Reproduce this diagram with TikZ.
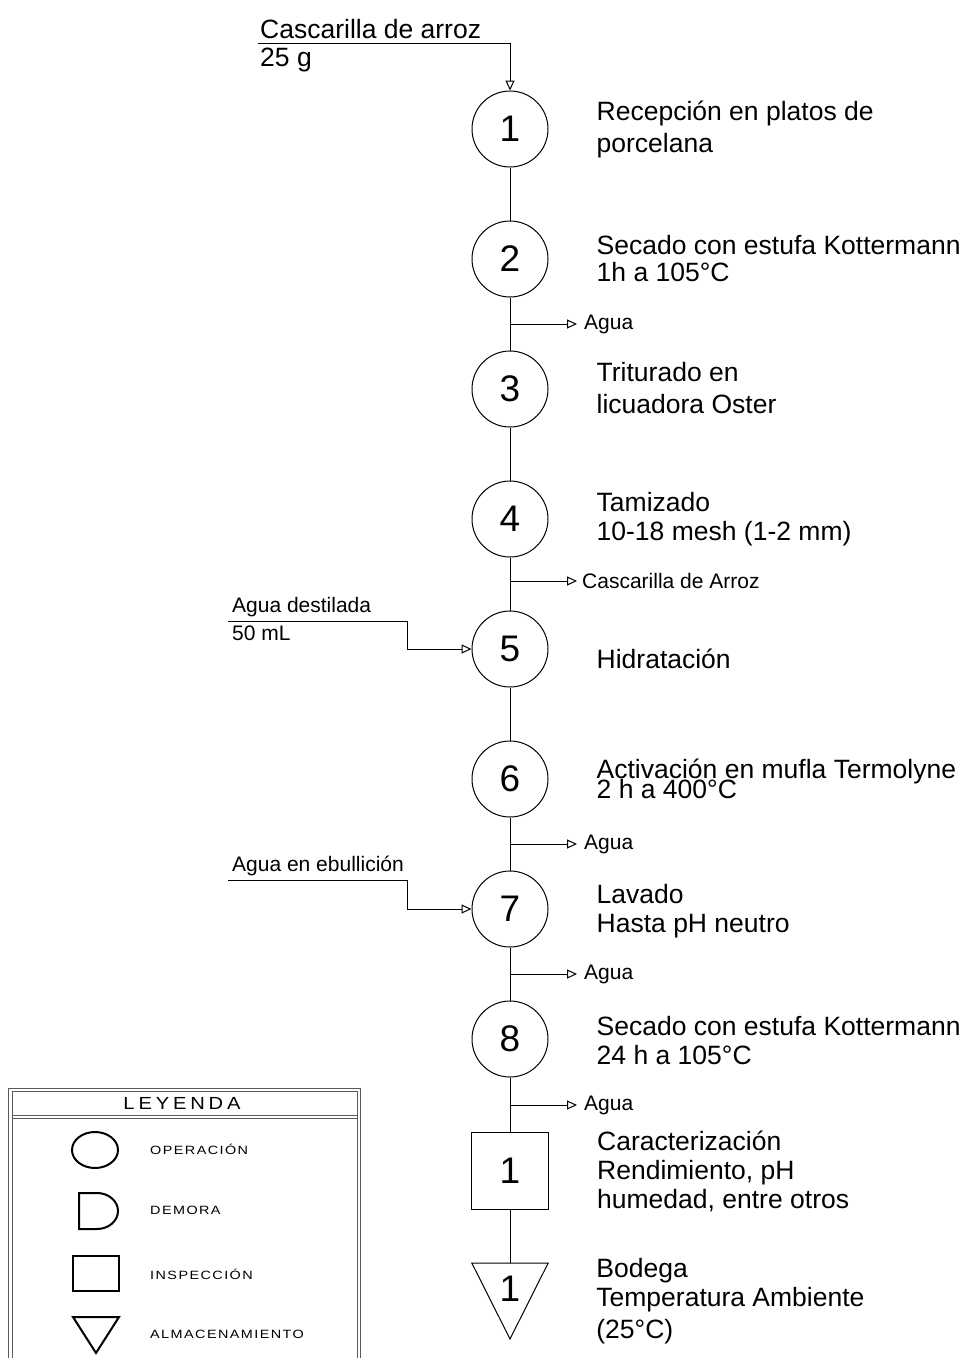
\documentclass[tikz,border=0pt]{standalone}
\usepackage{fontspec}
\setmainfont{Liberation Sans}
\newfontfamily\legfont[FakeStretch=1.2, LetterSpace=12]{Liberation Sans}
\newfontfamily\headfont[FakeStretch=1.15, LetterSpace=22]{Liberation Sans}
\usetikzlibrary{arrows.meta, positioning, calc}

\begin{document}
\begin{tikzpicture}[x=1pt, y=-1pt,
        op/.style={circle, draw, line width=1pt, minimum size=76pt, inner sep=0pt, font=\fontsize{37}{37}\selectfont},
        insp/.style={rectangle, draw, line width=1pt, minimum size=77pt, inner sep=0pt, font=\fontsize{37}{37}\selectfont},
        alm/.style={rectangle, minimum width=76pt, minimum height=51pt, inner sep=0pt, font=\fontsize{37}{37}\selectfont},
        desc/.style={inner sep=0pt, align=left, font=\fontsize{26.5}{29}\selectfont},
        side/.style={inner sep=0pt, font=\fontsize{21}{25}\selectfont},
        legtext/.style={inner sep=0pt, anchor=west, font=\legfont\fontsize{12}{12}\selectfont},
        line/.style={line width=1pt},
        arrow/.style={line width=1pt, -{Triangle[open, length=10pt, width=9pt]}},
        node distance=53pt
    ]
        \useasboundingbox (0,0) rectangle (967,1358);

        % Process steps
        \node (c1) [op] at (510,129) {1};
        \node (c2) [op, below=of c1] {2};
        \node (c3) [op, below=of c2] {3};
        \node (c4) [op, below=of c3] {4};
        \node (c5) [op, below=of c4] {5};
        \node (c6) [op, below=of c5] {6};
        \node (c7) [op, below=of c6] {7};
        \node (c8) [op, below=of c7] {8};
        \node (insp1) [insp, below=54.5pt of c8] {1};
        \node (alm1) [alm, below=of insp1] {1};
        \draw [line] (alm1.north west) -- (alm1.north east) -- ($(alm1.north)+(0,76)$) -- cycle;

        % Main line
        \draw [line] (c1) -- (c2);
        \draw [line] (c2) -- (c3);
        \draw [line] (c3) -- (c4);
        \draw [line] (c4) -- (c5);
        \draw [line] (c5) -- (c6);
        \draw [line] (c6) -- (c7);
        \draw [line] (c7) -- (c8);
        \draw [line] (c8) -- (insp1);
        \draw [line] (insp1) -- (alm1);

        % Descriptions
        \node [desc, right=48pt of c1] {Recepción en platos de\\[3pt]porcelana};
        \node [desc, right=48pt of c2] {Secado con estufa Kottermann\\[-2pt]1h a 105°C};
        \node [desc, right=48pt of c3, yshift=1pt] {Triturado en\\[3pt]licuadora Oster};
        \node [desc, right=48pt of c4] {Tamizado\\10-18 mesh (1-2 mm)};
        \node [desc, right=48pt of c5, yshift=-10pt] {Hidratación};
        \node [desc, right=48pt of c6] {Activación en mufla Termolyne\\[-9pt]2 h a 400°C};
        \node [desc, right=48pt of c7, yshift=-2pt] {Lavado\\Hasta pH neutro};
        \node [desc, right=48pt of c8, yshift=-2pt] {Secado con estufa Kottermann\\24 h a 105°C};
        \node [desc, right=48pt of insp1] {Caracterización\\Rendimiento, pH\\humedad, entre otros};
        \node [desc, right=48pt of alm1, yshift=-12pt] {Bodega\\Temperatura Ambiente\\[3pt](25°C)};

        % Inputs
        \coordinate (in1) at (258,43);
        \node [side, font=\fontsize{26.5}{29}\selectfont, anchor=south west] at ($(in1)+(2,-4)$) {Cascarilla de arroz};
        \node [side, font=\fontsize{26.5}{29}\selectfont, anchor=north west] at ($(in1)+(2,5)$) {25 g};
        \draw [arrow] (in1) -| (c1);

        \coordinate (in5) at (228,621);
        \node [side, anchor=south west] at ($(in5)+(4,-4)$) {Agua destilada};
        \node [side, anchor=north west] at ($(in5)+(4,5)$) {50 mL};
        \draw [arrow] (in5) -- ++(179,0) |- (c5);

        \coordinate (in7) at (228,880);
        \node [side, anchor=south west] at ($(in7)+(4,-4)$) {Agua en ebullición};
        \draw [arrow] (in7) -- ++(179,0) |- (c7);

        % Outputs
        \coordinate (o2) at ($(c2)!0.5!(c3)$);
        \coordinate (o4) at ($(c4)!0.5!(c5)+(0,-3)$);
        \coordinate (o6) at ($(c6)!0.5!(c7)$);
        \coordinate (o7) at ($(c7)!0.5!(c8)$);
        \coordinate (o8) at ($(c8)!0.5!(insp1)$);
        \node (out2) [side, anchor=west] at ($(o2)+(74,0)$) {Agua};
        \node (out4) [side, anchor=west] at ($(o4)+(72,0)$) {Cascarilla de Arroz};
        \node (out6) [side, anchor=west] at ($(o6)+(74,0)$) {Agua};
        \node (out7) [side, anchor=west] at ($(o7)+(74,0)$) {Agua};
        \node (out8) [side, anchor=west] at ($(o8)+(74,0)$) {Agua};
        \draw [arrow, shorten >=7pt] (o2) -- (out2.west);
        \draw [arrow, shorten >=5pt] (o4) -- (out4.west);
        \draw [arrow, shorten >=7pt] (o6) -- (out6.west);
        \draw [arrow, shorten >=7pt] (o7) -- (out7.west);
        \draw [arrow, shorten >=7pt] (o8) -- (out8.west);

        % Legend
        \draw [line width=0.8pt, gray!70!black] (8,1358) -- (8,1088) -- (360,1088) -- (360,1358);
        \draw [line width=0.8pt, gray!70!black] (12,1358) -- (12,1091) -- (357,1091) -- (357,1358);
        \draw [line width=0.8pt, gray!70!black] (12,1115) -- (357,1115);
        \draw [line width=0.8pt, gray!70!black] (12,1118) -- (357,1118);
        \node [inner sep=0pt, font=\headfont\fontsize{17.5}{18}\selectfont] at (182,1103) {LEYENDA};
        \draw [line width=2pt] (95,1150) ellipse [x radius=23, y radius=18];
        \draw [line width=2pt] (79,1193) -- (97,1193) arc [start angle=-90, end angle=90, x radius=21, y radius=18] -- (79,1229) -- cycle;
        \draw [line width=2pt] (73,1256) rectangle (119,1291);
        \draw [line width=2pt] (73,1317) -- (119,1317) -- (96,1353) -- cycle;
        \node [legtext] at (150,1149) {OPERACIÓN};
        \node [legtext] at (150,1210) {DEMORA};
        \node [legtext] at (150,1274) {INSPECCIÓN};
        \node [legtext] at (150,1334) {ALMACENAMIENTO};

    \end{tikzpicture}
\end{document}
